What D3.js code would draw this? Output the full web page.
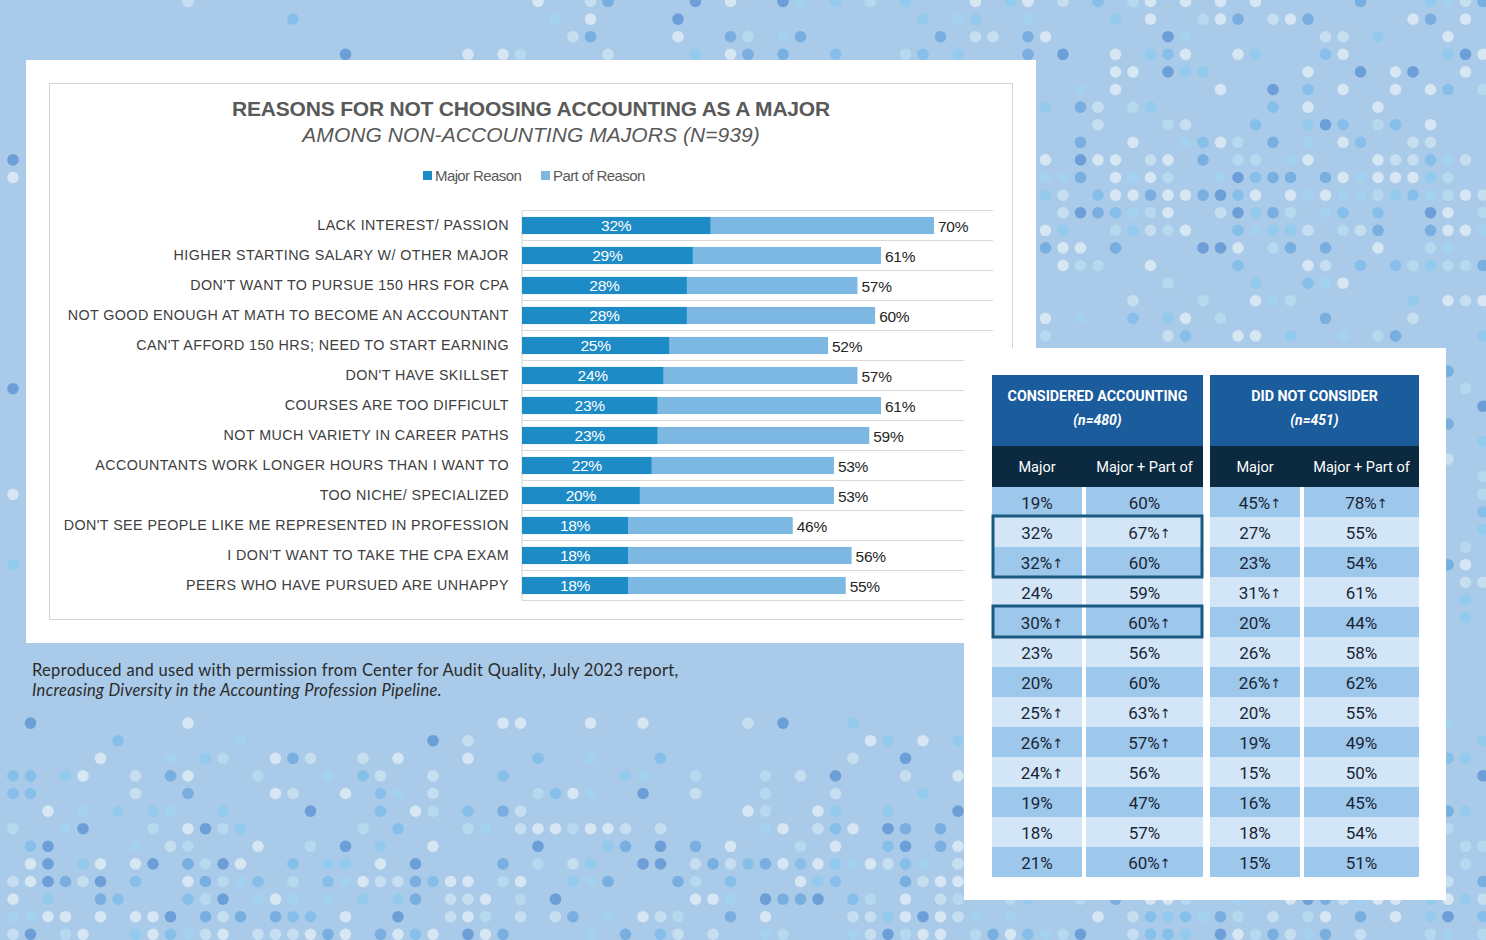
<!DOCTYPE html>
<html><head><meta charset="utf-8">
<script src="https://cdn.jsdelivr.net/npm/d3@7"></script>
<style>
html,body{margin:0;padding:0;background:#a9cae8;}
svg{display:block;}
</style></head>
<body><svg id="c" width="1486" height="940"></svg>
<script>
// ---------- DATA ----------
const categories = [
  "LACK INTEREST/ PASSION",
  "HIGHER STARTING SALARY W/ OTHER MAJOR",
  "DON'T WANT TO PURSUE 150 HRS FOR CPA",
  "NOT GOOD ENOUGH AT MATH TO BECOME AN ACCOUNTANT",
  "CAN'T AFFORD 150 HRS; NEED TO START EARNING",
  "DON'T HAVE SKILLSET",
  "COURSES ARE TOO DIFFICULT",
  "NOT MUCH VARIETY IN CAREER PATHS",
  "ACCOUNTANTS WORK LONGER HOURS THAN I WANT TO",
  "TOO NICHE/ SPECIALIZED",
  "DON'T SEE PEOPLE LIKE ME REPRESENTED IN PROFESSION",
  "I DON'T WANT TO TAKE THE CPA EXAM",
  "PEERS WHO HAVE PURSUED ARE UNHAPPY"
];
const majorReason = [32,29,28,28,25,24,23,23,22,20,18,18,18];
const totalReason = [70,61,57,60,52,57,61,59,53,53,46,56,55];
const seriesNames = ["Major Reason","Part of Reason"];

const groupTitles = ["CONSIDERED ACCOUNTING","DID NOT CONSIDER"];
const groupN = ["(n=480)","(n=451)"];
const subHeads = ["Major","Major + Part of"];
const consideredMajor   = [19,32,32,24,30,23,20,25,26,24,19,18,21];
const consideredMajorUp = [0,0,1,0,1,0,0,1,1,1,0,0,0];
const consideredTotal   = [60,67,60,59,60,56,60,63,57,56,47,57,60];
const consideredTotalUp = [0,1,0,0,1,0,0,1,1,0,0,0,1];
const notMajor   = [45,27,23,31,20,26,26,20,19,15,16,18,15];
const notMajorUp = [1,0,0,1,0,0,1,0,0,0,0,0,0];
const notTotal   = [78,55,54,61,44,58,62,55,49,50,45,54,51];
const notTotalUp = [1,0,0,0,0,0,0,0,0,0,0,0,0];
const highlightRows = [[1,2],[4,4]];

const chartTitle = "REASONS FOR NOT CHOOSING ACCOUNTING AS A MAJOR";
const chartSub = "AMONG NON-ACCOUNTING MAJORS (N=939)";
const caption1 = "Reproduced and used with permission from Center for Audit Quality, July 2023 report,";
const caption2 = "Increasing Diversity in the Accounting Profession Pipeline.";

// ---------- DRAW ----------
const svg = d3.select("#c");

// decorative dot background (deterministic pattern)
function hash(i,j,s){ let n = Math.sin(i*127.1 + j*311.7 + s*74.7)*43758.5453; return n - Math.floor(n); }
const palette = ["#d6e6f2","#c6dff0","#b6d9f0","#a2d2ef","#93cbee","#86bfe9","#79aee0","#6c9fd8"];
const dots = [];
for (let i=0;i<86;i++) for (let j=0;j<54;j++){
  const x = 13 + 17.5*i, y = 1.5 + 17.6*j;
  let p = 0.12;
  if (y < 60) p = x > 500 ? 0.4 : 0.02;
  else if (x > 1030 && y < 360) p = 0.3 + 0.5*Math.exp(-Math.pow((y-190)/70,2));
  else if (y > 710) p = 0.12 + 0.55*(y-710)/230;
  else if (y > 640) p = 0.0;
  else if (x > 1440) p = 0.35;
  else p = 0.03;
  if (hash(i,j,1) < p) {
    const k = Math.floor(Math.pow(hash(i,j,2),1.4)*palette.length);
    dots.push({x,y,c:palette[k]});
  }
}
svg.append("g").selectAll("circle").data(dots).join("circle")
  .attr("cx",d=>d.x).attr("cy",d=>d.y).attr("r",5.8).attr("fill",d=>d.c);

// chart panel
svg.append("rect").attr("x",26).attr("y",60).attr("width",1010).attr("height",583).attr("fill","#fff");
svg.append("rect").attr("x",49.5).attr("y",83.5).attr("width",963).attr("height",536)
  .attr("fill","none").attr("stroke","#d4d4d4").attr("stroke-width",1);

const lf = "Liberation Sans, Arial, sans-serif";
svg.append("text").attr("x",531).attr("y",116).attr("text-anchor","middle")
  .attr("font-family",lf).attr("font-weight","bold")
  .attr("font-size",21).attr("letter-spacing","-0.2").attr("fill","#595959").text(chartTitle);
svg.append("text").attr("x",531).attr("y",142).attr("text-anchor","middle")
  .attr("font-family",lf).attr("font-style","italic")
  .attr("font-size",21).attr("letter-spacing","0.05").attr("fill","#595959").text(chartSub);

const darkC = "#1c8bc6", lightC = "#7db8e3";
const leg = svg.append("g").attr("font-family",lf).attr("font-size",15).attr("fill","#595959");
[[423,darkC],[541,lightC]].forEach((d,k)=>{
  leg.append("rect").attr("x",d[0]).attr("y",171).attr("width",9).attr("height",9).attr("fill",d[1]);
  leg.append("text").attr("x",d[0]+12).attr("y",181).attr("letter-spacing","-0.6").text(seriesNames[k]);
});

const x = d3.scaleLinear().domain([0,70]).range([522,934]);
const y = d3.scaleBand().domain(categories).range([210.5,600.5]).paddingInner(0.43).paddingOuter(0.215);
const step = y.step();

// grid lines
const gl = svg.append("g").attr("stroke","#d9d9d9").attr("stroke-width",1.2);
categories.forEach((c,i)=>{
  const yy = 210.5 + step*(i+1);
  gl.append("line").attr("x1",522).attr("x2",993).attr("y1",yy).attr("y2",yy);
});
gl.append("line").attr("x1",522).attr("x2",993).attr("y1",210.5).attr("y2",210.5);
gl.append("line").attr("x1",522).attr("x2",522).attr("y1",210.5).attr("y2",600.5);

const bars = svg.append("g");
bars.selectAll("rect.t").data(categories).join("rect").attr("class","t")
  .attr("x",x(0)).attr("y",d=>y(d)).attr("height",y.bandwidth())
  .attr("width",(d,i)=>x(totalReason[i])-x(0)).attr("fill",lightC);
bars.selectAll("rect.m").data(categories).join("rect").attr("class","m")
  .attr("x",x(0)).attr("y",d=>y(d)).attr("height",y.bandwidth())
  .attr("width",(d,i)=>x(majorReason[i])-x(0)).attr("fill",darkC);
bars.selectAll("text.m").data(categories).join("text").attr("class","m")
  .attr("x",(d,i)=>(x(0)+x(majorReason[i]))/2).attr("y",d=>y(d)+y.bandwidth()/2+5.5)
  .attr("text-anchor","middle").attr("font-family",lf).attr("font-size",15.5).attr("fill","#fff")
  .attr("letter-spacing","-0.3").text((d,i)=>majorReason[i]+"%");
bars.selectAll("text.t").data(categories).join("text").attr("class","t")
  .attr("x",(d,i)=>x(totalReason[i])+4).attr("y",d=>y(d)+y.bandwidth()/2+6)
  .attr("font-family",lf).attr("font-size",15.5).attr("fill","#262626")
  .attr("letter-spacing","-0.3").text((d,i)=>totalReason[i]+"%");
bars.selectAll("text.c").data(categories).join("text").attr("class","c")
  .attr("x",509).attr("y",d=>y(d)+y.bandwidth()/2+4.5)
  .attr("text-anchor","end").attr("font-family",lf).attr("font-size",14.3).attr("fill","#404040")
  .attr("letter-spacing","0.42").text(d=>d);

// caption
const cf = "Lato, 'Open Sans', sans-serif";
svg.append("text").attr("x",32).attr("y",676).attr("font-family",cf).attr("font-size",16.5)
  .attr("fill","#2b2b2b").attr("letter-spacing","0.3").text(caption1);
svg.append("text").attr("x",32).attr("y",696).attr("font-family",cf).attr("font-size",16.5)
  .attr("font-style","italic").attr("fill","#2b2b2b").attr("letter-spacing","0.3").text(caption2);

// table panel
svg.append("rect").attr("x",964).attr("y",348).attr("width",482).attr("height",552).attr("fill","#fff");
const tf = "Roboto, 'Noto Sans', sans-serif";
const groups = [
  {cols:[[992,1082],[1086,1203]], major:consideredMajor, majorUp:consideredMajorUp, total:consideredTotal, totalUp:consideredTotalUp},
  {cols:[[1210,1300],[1304,1419]], major:notMajor, majorUp:notMajorUp, total:notTotal, totalUp:notTotalUp}
];
const rowY = d3.scaleBand().domain(d3.range(categories.length)).range([487,877]);
const tbl = svg.append("g");
groups.forEach((g,gi)=>{
  const gx0 = g.cols[0][0], gx1 = g.cols[1][1];
  tbl.append("rect").attr("x",gx0).attr("y",375).attr("width",gx1-gx0).attr("height",71).attr("fill","#1b5c9c");
  tbl.append("rect").attr("x",gx0).attr("y",446).attr("width",gx1-gx0).attr("height",41).attr("fill","#0c2a3f");
  const cx = (gx0+gx1)/2;
  tbl.append("text").attr("x",cx).attr("y",401).attr("text-anchor","middle").attr("font-family",tf)
    .attr("font-weight","bold").attr("font-size",14.3).attr("fill","#fff").text(groupTitles[gi]);
  tbl.append("text").attr("x",cx).attr("y",425).attr("text-anchor","middle").attr("font-family",tf)
    .attr("font-weight","bold").attr("font-style","italic").attr("font-size",14).attr("fill","#fff").text(groupN[gi]);
  g.cols.forEach((c,ci)=>{
    tbl.append("text").attr("x",(c[0]+c[1])/2).attr("y",472).attr("text-anchor","middle").attr("font-family",tf)
      .attr("font-size",14.5).attr("fill","#fff").text(subHeads[ci]);
    const vals = ci===0 ? g.major : g.total;
    const ups = ci===0 ? g.majorUp : g.totalUp;
    vals.forEach((v,ri)=>{
      tbl.append("rect").attr("x",c[0]).attr("y",rowY(ri)).attr("width",c[1]-c[0]).attr("height",rowY.bandwidth())
        .attr("fill", ri%2===0 ? "#9dc8ec" : "#d2e6f7");
      const t = tbl.append("text").attr("x",(c[0]+c[1])/2 + (ups[ri]?5:0)).attr("y",rowY(ri)+21.5)
        .attr("text-anchor","middle").attr("font-family",tf).attr("font-size",17).attr("fill","#1b2535");
      t.append("tspan").text(v+"%");
      if (ups[ri]) t.append("tspan").attr("font-family","'DejaVu Sans', sans-serif").attr("font-size",13)
        .attr("dy",-1).text("↑");
    });
  });
});
// highlight boxes
highlightRows.forEach(r=>{
  tbl.append("rect").attr("x",993).attr("y",rowY(r[0])-1).attr("width",209)
    .attr("height",rowY(r[1])+rowY.bandwidth()-rowY(r[0])+1)
    .attr("fill","none").attr("stroke","#1a5a80").attr("stroke-width",3);
});
</script></body></html>
